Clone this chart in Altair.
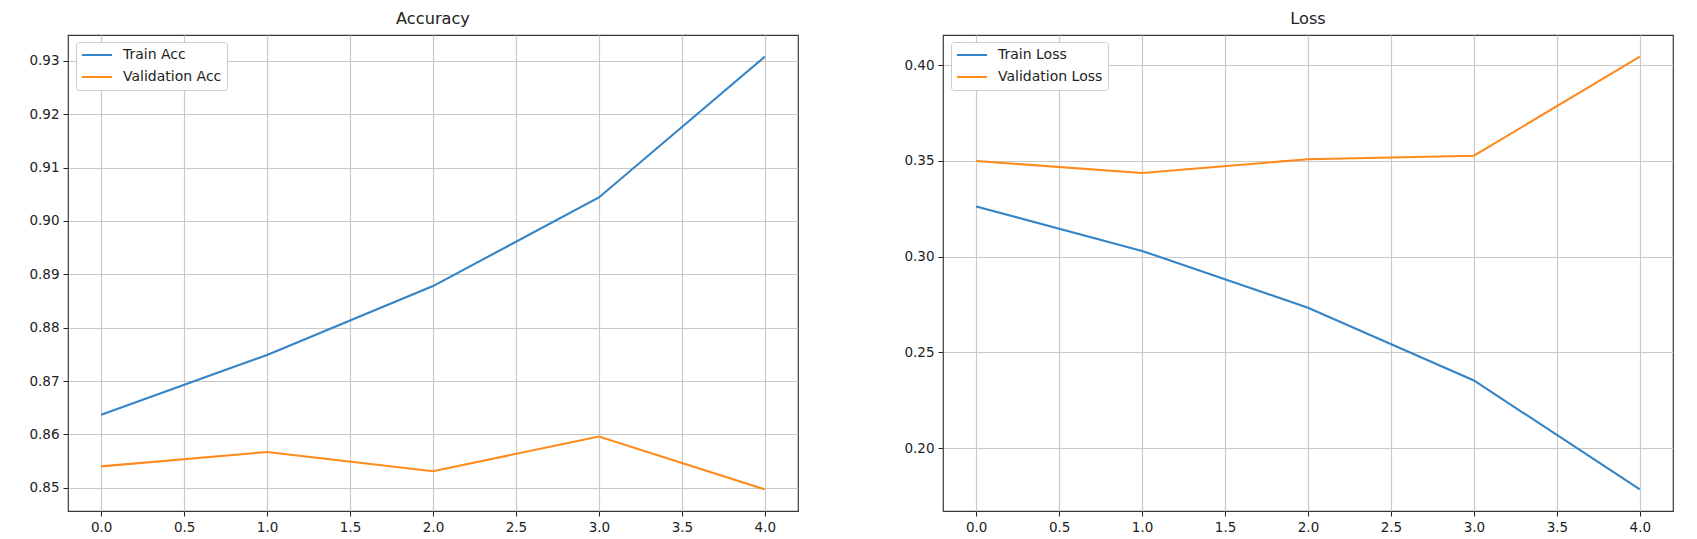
import altair as alt
import pandas as pd

epochs = [0, 1, 2, 3, 4]
train_acc = [0.8637, 0.8749, 0.8878, 0.9044, 0.9308]
val_acc = [0.8540, 0.8567, 0.8531, 0.8596, 0.8497]
train_loss = [0.3262, 0.3030, 0.2733, 0.2353, 0.1784]
val_loss = [0.3500, 0.3437, 0.3509, 0.3527, 0.4045]

acc_names = ["Train Acc", "Validation Acc"]
loss_names = ["Train Loss", "Validation Loss"]
x_ticks = [0.0, 0.5, 1.0, 1.5, 2.0, 2.5, 3.0, 3.5, 4.0]
acc_ticks = [0.85, 0.86, 0.87, 0.88, 0.89, 0.90, 0.91, 0.92, 0.93]
loss_ticks = [0.20, 0.25, 0.30, 0.35, 0.40]

BLUE = "#3584c6"
ORANGE = "#ff8a1c"
FONT = "DejaVu Sans"


def frame(names, series):
    rows = []
    for name, vals in zip(names, series):
        for e, v in zip(epochs, vals):
            rows.append({"epoch": e, "value": v, "series": name})
    return pd.DataFrame(rows)


def margins(series):
    lo = min(min(s) for s in series)
    hi = max(max(s) for s in series)
    pad = (hi - lo) * 0.05
    return [lo - pad, hi + pad]


def panel(title, names, series, ticks, fmt):
    df = frame(names, series)
    return (
        alt.Chart(df, title=alt.TitleParams(title, anchor="middle"))
        .mark_line(strokeWidth=2.1)
        .encode(
            x=alt.X(
                "epoch:Q",
                scale=alt.Scale(domain=[-0.2, 4.2], nice=False, zero=False),
                axis=alt.Axis(values=x_ticks, format=".1f", title=None),
            ),
            y=alt.Y(
                "value:Q",
                scale=alt.Scale(domain=margins(series), nice=False, zero=False),
                axis=alt.Axis(values=ticks, format=fmt, title=None),
            ),
            color=alt.Color(
                "series:N",
                scale=alt.Scale(domain=names, range=[BLUE, ORANGE]),
                sort=names,
                legend=alt.Legend(
                    title=None,
                    orient="none",
                    legendX=8,
                    legendY=7,
                ),
            ),
            order=alt.Order("series:N"),
        )
        .properties(width=730, height=476)
    )


left = panel("Accuracy", acc_names, [train_acc, val_acc], acc_ticks, ".2f")
right = panel("Loss", loss_names, [train_loss, val_loss], loss_ticks, ".2f")

chart = (
    alt.hconcat(left, right, spacing=145, bounds="flush")
    .resolve_scale(color="independent")
    .resolve_legend(color="independent")
    .properties(padding={"left": 20, "top": 2, "right": 5, "bottom": 5})
    .configure(background="white")
    .configure_view(stroke="#3a3a3a", strokeWidth=1.2)
    .configure_axis(
        labelFont=FONT,
        labelFontSize=13.5,
        labelColor="#222222",
        tickColor="#222222",
        tickSize=5,
        tickWidth=1,
        labelPadding=4,
        domain=False,
        grid=True,
        gridColor="#c9c9c9",
        gridWidth=1.2,
    )
    .configure_title(
        font=FONT,
        fontSize=16.2,
        fontWeight="normal",
        color="#222222",
        baseline="alphabetic",
        offset=8,
    )
    .configure_legend(
        labelFont=FONT,
        labelFontSize=14,
        labelColor="#222222",
        symbolType="stroke",
        symbolSize=900,
        symbolStrokeWidth=2,
        clipHeight=16,
        rowPadding=6,
        labelOffset=10,
        padding=5,
        fillColor="white",
        strokeColor="#cccccc",
        cornerRadius=3,
    )
)

chart.save("out.html", embed_options={"renderer": "svg", "actions": False})
